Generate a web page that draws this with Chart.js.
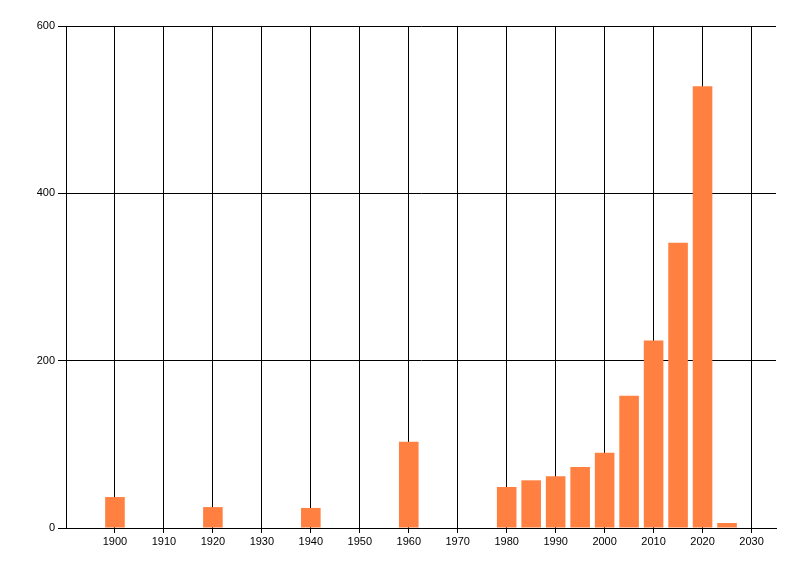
<!DOCTYPE html>
<html>
<head>
<meta charset="utf-8">
<script src="https://cdn.jsdelivr.net/npm/chart.js@4/dist/chart.umd.min.js"></script>
<style>
  html, body { margin: 0; padding: 0; background: #ffffff; }
  #wrap { width: 800px; height: 576px; }
</style>
</head>
<body>
<div id="wrap"><canvas id="c" width="800" height="576"></canvas></div>
<script>
const years  = [1900, 1920, 1940, 1960, 1980, 1985, 1990, 1995, 2000, 2005, 2010, 2015, 2020, 2025];
const values = [37, 25, 24, 103, 49, 57, 62, 73, 90, 158, 224, 341, 528, 6];
const xTicks = [1900, 1910, 1920, 1930, 1940, 1950, 1960, 1970, 1980, 1990, 2000, 2010, 2020, 2030];
const yTicks = [0, 200, 400, 600];

const barColor = 'rgb(255,128,64)';
const font = { family: '"Liberation Sans", Arial, sans-serif', size: 11 };

new Chart(document.getElementById('c'), {
  type: 'bar',
  data: {
    datasets: [{
      data: years.map((x, i) => ({ x: x, y: values[i] })),
      backgroundColor: barColor,
      borderWidth: 0,
      categoryPercentage: 0.8,
      barPercentage: 1.0
    }]
  },
  options: {
    responsive: false,
    devicePixelRatio: 1,
    animation: false,
    layout: { padding: { top: 26, right: 24, left: 0, bottom: 0 } },
    plugins: { legend: { display: false }, tooltip: { enabled: false }, title: { display: false } },
    scales: {
      x: {
        type: 'linear',
        min: 1890,
        max: 2035,
        offset: false,
        afterBuildTicks: (s) => { s.ticks = xTicks.map(v => ({ value: v })); },
        afterFit: (s) => { s.height = 48; },
        ticks: { color: '#000', font: font, padding: 2, maxRotation: 0, autoSkip: false,
                 callback: (v) => String(v) },
        grid: { color: '#000', lineWidth: 1, tickLength: 5, drawTicks: true, offset: false },
        border: { display: true, color: '#000', width: 1 }
      },
      y: {
        min: 0,
        max: 600,
        afterBuildTicks: (s) => { s.ticks = yTicks.map(v => ({ value: v })); },
        afterFit: (s) => { s.width = 66; },
        ticks: { color: '#000', font: font, padding: 3, callback: (v) => String(v) },
        grid: { color: '#000', lineWidth: 1, tickLength: 8, drawTicks: true },
        border: { display: true, color: '#000', width: 1 }
      }
    }
  }
});
</script>
</body>
</html>
